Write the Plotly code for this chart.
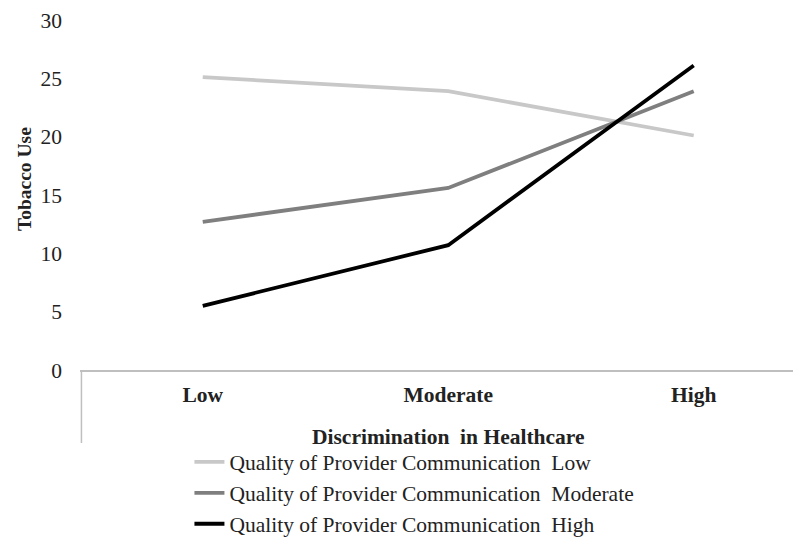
import plotly.graph_objects as go

categories = ["Low", "Moderate", "High"]
series_names = [
    "Quality of Provider Communication\u00a0 Low",
    "Quality of Provider Communication\u00a0 Moderate",
    "Quality of Provider Communication\u00a0 High",
]
low_comm = [25.1, 23.9, 20.1]
moderate_comm = [12.7, 15.6, 23.9]
high_comm = [5.5, 10.7, 26.1]
y_ticks = [0, 5, 10, 15, 20, 25, 30]

colors = ["#c8c8c8", "#7f7f7f", "#000000"]
FONT = "Liberation Serif, Times New Roman, serif"
FS = 21.5

fig = go.Figure()
for i, (name, vals) in enumerate(zip(series_names, [low_comm, moderate_comm, high_comm])):
    fig.add_trace(go.Scatter(
        x=[0, 1, 2], y=vals, mode="lines", name=name,
        line=dict(color=colors[i], width=3.8),
    ))

fig.update_layout(
    width=801, height=554,
    margin=dict(l=72, r=9, t=12, b=192, autoexpand=False),
    paper_bgcolor="white", plot_bgcolor="white",
    font=dict(family=FONT, size=FS, color="#222222"),
    showlegend=True,
    legend=dict(
        x=0.152, y=-0.204, xanchor="left", yanchor="top",
        font=dict(family=FONT, size=FS, color="#222222"),
        itemwidth=30, bgcolor="rgba(0,0,0,0)", tracegroupgap=0,
    ),
    xaxis=dict(
        range=[-0.5, 2.433], automargin=False,
        tickmode="array", tickvals=[0, 1, 2], ticktext=[f"<b>{c}</b>" for c in categories],
        showgrid=False, zeroline=False,
        showline=True, linecolor="#bfbfbf", linewidth=1.5,
        ticks="", ticklabelstandoff=4,
        tickfont=dict(family=FONT, size=FS, color="#222222"),
        fixedrange=True,
    ),
    yaxis=dict(
        range=[0, 30], automargin=False,
        tickmode="array", tickvals=y_ticks,
        showgrid=False, zeroline=False, showline=False,
        ticks="", ticklabelstandoff=17,
        tickfont=dict(family=FONT, size=FS, color="#222222"),
        fixedrange=True,
    ),
    annotations=[
        dict(text="<b>Tobacco Use</b>", xref="paper", yref="paper",
             x=-(80 - 24) / 720, y=(370 - 179) / 350, xanchor="center", yanchor="middle",
             textangle=-90, showarrow=False,
             font=dict(family=FONT, size=19.5, color="#222222")),
        dict(text="<b>Discrimination\u00a0 in Healthcare</b>", xref="x", yref="paper",
             x=1, y=-(437 - 370) / 350, xanchor="center", yanchor="middle",
             showarrow=False,
             font=dict(family=FONT, size=FS, color="#222222")),
    ],
    shapes=[
        dict(type="line", xref="paper", yref="paper", x0=0.002, x1=0.002,
             y0=0, y1=-(443 - 370) / 350, line=dict(color="#bfbfbf", width=1.5)),
    ],
)

fig.write_html("out.html")
